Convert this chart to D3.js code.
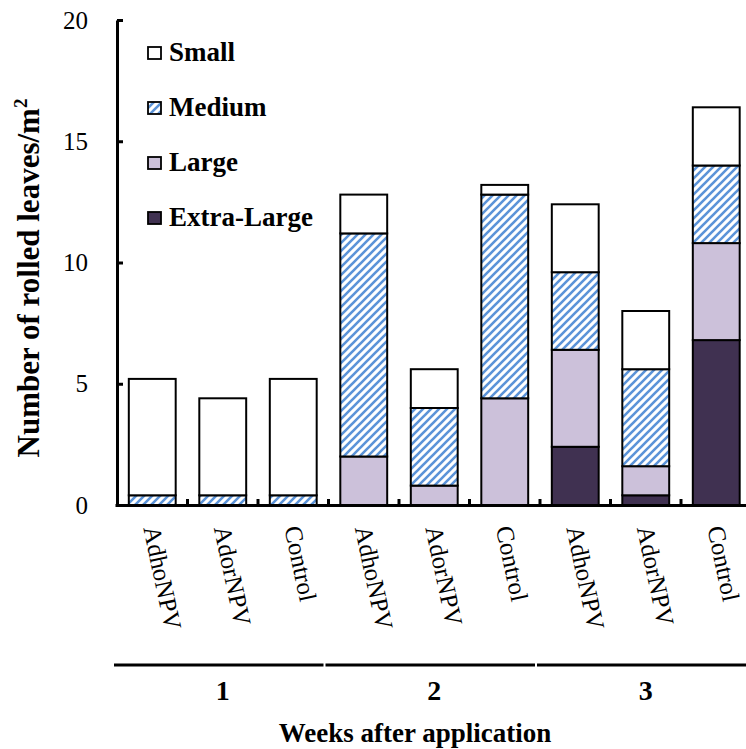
<!DOCTYPE html>
<html>
<head>
<meta charset="utf-8">
<script src="https://cdn.jsdelivr.net/npm/d3@7"></script>
<style>
  html, body { margin: 0; padding: 0; background: #fff; }
  svg { display: block; }
  svg text { font-family: "Liberation Serif", Tinos, "Times New Roman", Times, "DejaVu Serif", serif !important; }
</style>
</head>
<body>
<svg id="chart" width="746" height="749"></svg>
<script>
// ---- data ----
const weeks = ["1", "2", "3"];
const treatments = ["AdhoNPV", "AdorNPV", "Control"];
const categories = ["w1-AdhoNPV", "w1-AdorNPV", "w1-Control",
                    "w2-AdhoNPV", "w2-AdorNPV", "w2-Control",
                    "w3-AdhoNPV", "w3-AdorNPV", "w3-Control"];
const categoryLabels = ["AdhoNPV", "AdorNPV", "Control",
                        "AdhoNPV", "AdorNPV", "Control",
                        "AdhoNPV", "AdorNPV", "Control"];
const extraLarge = [0, 0, 0, 0, 0, 0, 2.4, 0.4, 6.8];
const large      = [0, 0, 0, 2.0, 0.8, 4.4, 4.0, 1.2, 4.0];
const medium     = [0.4, 0.4, 0.4, 9.2, 3.2, 8.4, 3.2, 4.0, 3.2];
const small      = [4.8, 4.0, 4.8, 1.6, 1.6, 0.4, 2.8, 2.4, 2.4];
const seriesKeys = ["Extra-Large", "Large", "Medium", "Small"];
const legendOrder = ["Small", "Medium", "Large", "Extra-Large"];
const yTicks = [0, 5, 10, 15, 20];

// ---- build table ----
const table = categories.map((c, i) => ({
  cat: c,
  "Extra-Large": extraLarge[i],
  "Large": large[i],
  "Medium": medium[i],
  "Small": small[i]
}));

const svg = d3.select("#chart");
const defs = svg.append("defs");
const pat = defs.append("pattern")
  .attr("id", "hatch")
  .attr("patternUnits", "userSpaceOnUse")
  .attr("width", 8).attr("height", 8);
pat.append("rect").attr("width", 8).attr("height", 8).attr("fill", "#fff");
pat.append("path")
  .attr("d", "M-2,2 L2,-2 M0,8 L8,0 M6,10 L10,6")
  .attr("stroke", "#5b93d8").attr("stroke-width", 2.6);

const fills = {
  "Small": "#ffffff",
  "Medium": "url(#hatch)",
  "Large": "#ccc1da",
  "Extra-Large": "#403151"
};

const x = d3.scaleBand().domain(categories).range([117, 751.5])
  .paddingInner(0.335).paddingOuter(0.1675);
const y = d3.scaleLinear().domain([0, 20]).range([505, 20]);

const stacked = d3.stack().keys(seriesKeys)(table);

// bars
const gBars = svg.append("g");
stacked.forEach(layer => {
  gBars.append("g").selectAll("rect")
    .data(layer)
    .join("rect")
    .filter(d => d[1] - d[0] > 0)
    .attr("x", d => x(d.data.cat))
    .attr("width", x.bandwidth())
    .attr("y", d => y(d[1]))
    .attr("height", d => y(d[0]) - y(d[1]))
    .attr("fill", fills[layer.key])
    .attr("stroke", "#000")
    .attr("stroke-width", 2);
});

// y axis
const yAxis = d3.axisLeft(y).tickValues(yTicks).tickSizeInner(-6).tickSizeOuter(0).tickPadding(29);
const gy = svg.append("g").attr("transform", "translate(117,0)").call(yAxis);
gy.attr("font-family", null);
gy.select(".domain").attr("stroke", "#000").attr("stroke-width", 3);
gy.selectAll(".tick line").attr("stroke", "#000").attr("stroke-width", 3);
gy.selectAll(".tick text")
  .attr("font-size", 25)
  .attr("fill", "#000");

// x axis line and inward ticks at category boundaries
const gap = (x.step() - x.bandwidth()) / 2;
svg.append("line")
  .attr("x1", x.range()[0] - 1.5).attr("x2", x.range()[1])
  .attr("y1", y(0) + 0.5).attr("y2", y(0) + 0.5)
  .attr("stroke", "#000").attr("stroke-width", 3);
svg.append("g").selectAll("line")
  .data(categories.slice(1))
  .join("line")
  .attr("x1", d => x(d) - gap).attr("x2", d => x(d) - gap)
  .attr("y1", y(0)).attr("y2", y(0) - 6)
  .attr("stroke", "#000").attr("stroke-width", 3);

// category labels (tilted)
svg.append("g").selectAll("text")
  .data(categories)
  .join("text")
  .attr("transform", (d) => `translate(${x(d) + x.bandwidth() / 2 - 9},528) rotate(78)`)
  .attr("font-size", 25)
  .attr("fill", "#000")
  .text((d, i) => categoryLabels[i]);

// week group lines and labels
const groupExtent = weeks.map((w, gi) => {
  const cats = categories.slice(gi * 3, gi * 3 + 3);
  return { w, x0: x(cats[0]) - gap, x1: x(cats[2]) + x.bandwidth() + gap };
});
svg.append("g").selectAll("line")
  .data(groupExtent)
  .join("line")
  .attr("x1", d => d.x0 - 3).attr("x2", d => d.x1 - 5)
  .attr("y1", 665).attr("y2", 665)
  .attr("stroke", "#000").attr("stroke-width", 3);
svg.append("g").selectAll("text")
  .data(groupExtent)
  .join("text")
  .attr("x", d => (d.x0 + d.x1) / 2)
  .attr("y", 700)
  .attr("text-anchor", "middle")
  .attr("font-size", 28)
  .attr("font-weight", "bold")
  .text(d => d.w);

// axis titles
svg.append("text")
  .attr("x", 415).attr("y", 742)
  .attr("text-anchor", "middle")
  .attr("font-size", 27)
  .attr("font-weight", "bold")
  .text("Weeks after application");

const yt = svg.append("text")
  .attr("transform", "translate(39,278) rotate(-90)")
  .attr("text-anchor", "middle")
  .attr("font-size", 31)
  .attr("font-weight", "bold");
yt.append("tspan").text("Number of rolled leaves/m");
yt.append("tspan").attr("font-size", 19).attr("dy", -12).text("2");

// legend
const lg = svg.append("g").selectAll("g")
  .data(legendOrder)
  .join("g")
  .attr("transform", (d, i) => `translate(148,${61 + i * 55})`);
lg.append("rect")
  .attr("x", 0).attr("y", -14).attr("width", 13).attr("height", 12)
  .attr("fill", d => fills[d])
  .attr("stroke", "#000").attr("stroke-width", 1.8);
lg.append("text")
  .attr("x", 21).attr("y", 0)
  .attr("font-size", 27)
  .attr("font-weight", "bold")
  .text(d => d);
</script>
</body>
</html>
